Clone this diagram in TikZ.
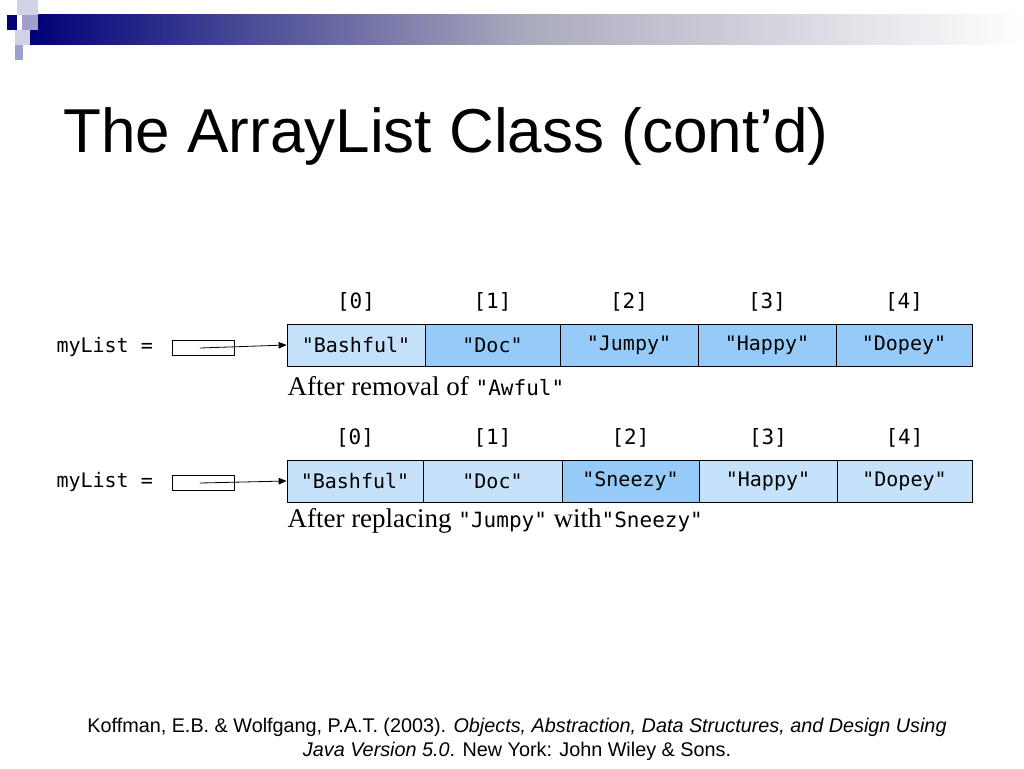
\documentclass[tikz,border=0pt]{standalone}
\usepackage{fontspec}
\setmainfont{Liberation Sans}
\newfontfamily\capfont{Liberation Serif}
\newfontfamily\codefont{DejaVu Sans Mono}
\usetikzlibrary{arrows}
\definecolor{navy}{RGB}{0,0,120}
\definecolor{greyblue}{RGB}{170,170,190}
\definecolor{lav}{RGB}{160,160,205}
\definecolor{pale}{RGB}{210,210,230}
\definecolor{cellA}{RGB}{198,226,250}
\definecolor{cellB}{RGB}{150,202,248}
\tikzset{
  cell/.style={draw=black,line width=1pt,minimum height=42pt,inner sep=0pt,font=\codefont\fontsize{20}{22}\selectfont},
  idx/.style={font=\codefont\fontsize{21}{22}\selectfont},
  code/.style={font=\codefont\fontsize{20}{22}\selectfont},
  capline/.style={anchor=west,font=\capfont\fontsize{27}{30}\selectfont},
}
\newcommand\cw[1]{{\codefont\fontsize{21}{22}\selectfont#1}}
\begin{document}
\begin{tikzpicture}[line cap=round,line join=round,>=triangle 45,x=1pt,y=-1pt]
    \useasboundingbox[fill=white] (0,0) rectangle (1024,768);
    % slide decoration
    \shade[left color=navy,right color=white,middle color=greyblue] (30,15) rectangle (1024,45);
    \fill[pale] (17,0) rectangle (38,15);
    \fill[navy] (7,15) rectangle (17,30);
    \fill[lav] (22,15) rectangle (38,30);
    \fill[pale] (15,30) rectangle (30,45);
    \fill[lav] (15,45) rectangle (23,60);
    \node[anchor=base west,font=\fontsize{62}{66}\selectfont] (title) at (60,152) {The ArrayList Class (cont’d)};
    % first list
    \foreach \i/\xa/\xb/\txt/\col in {0/287/425/"Bashful"/cellA,1/425/560/"Doc"/cellB,2/560/698/"Jumpy"/cellB,3/698/836/"Happy"/cellB,4/836/972/"Dopey"/cellB}{
      \node[cell,fill=\col,minimum width=\xb-\xa] (a\i) at ({(\xa+\xb)/2},345) {\txt};
      \node[idx] (ia\i) at ({(\xa+\xb)/2},302) {[\i]};
    }
    \node[code,anchor=west] (la) at (53,347) {myList =};
    \node[draw,line width=1pt,minimum width=62pt,minimum height=15pt,inner sep=0pt] (pa) at (203,348) {};
    \coordinate (sa) at (200,348);
    \draw[->,line width=0.8pt] (sa) -- (a0.west);
    \node[capline] (ca) at (284,386) {After removal of \cw{"Awful"}};
    % second list
    \foreach \i/\xa/\xb/\txt/\col in {0/287/423/"Bashful"/cellA,1/423/562/"Doc"/cellA,2/562/699/"Sneezy"/cellB,3/699/837/"Happy"/cellA,4/837/972/"Dopey"/cellA}{
      \node[cell,fill=\col,minimum width=\xb-\xa] (b\i) at ({(\xa+\xb)/2},481) {\txt};
      \node[idx] (ib\i) at ({(\xa+\xb)/2},438) {[\i]};
    }
    \node[code,anchor=west] (lb) at (53,482) {myList =};
    \node[draw,line width=1pt,minimum width=62pt,minimum height=15pt,inner sep=0pt] (pb) at (203,483) {};
    \coordinate (sb) at (200,483);
    \draw[->,line width=0.8pt] (sb) -- (b0.west);
    \node[capline] (cb) at (284,521) {After replacing \cw{"Jumpy"} with\cw{"Sneezy"}};
    % reference
    \node[align=center,font=\fontsize{19.8}{24}\selectfont] (ref) at (517,739) {Koffman, E.B. \& Wolfgang, P.A.T. (2003). \textit{Objects, Abstraction, Data Structures, and Design Using}\\\textit{Java Version 5.0}. New York: John Wiley \& Sons.};
\end{tikzpicture}
\end{document}
